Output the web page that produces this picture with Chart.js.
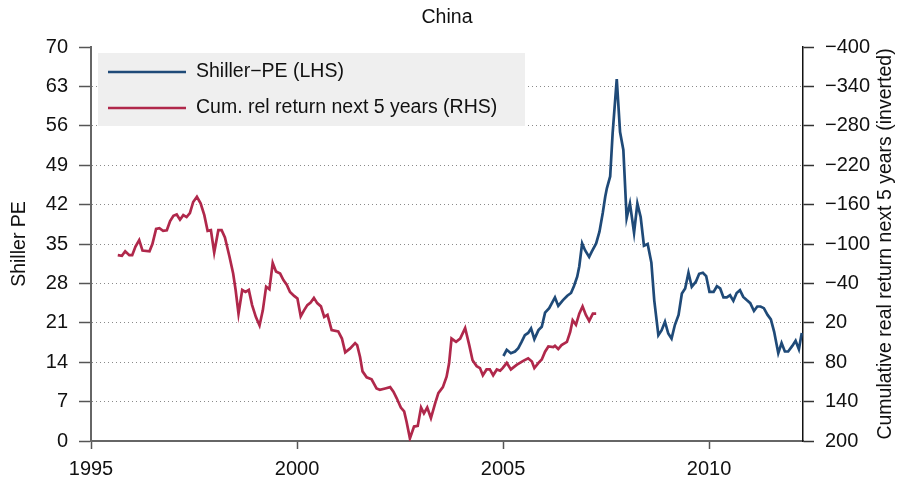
<!DOCTYPE html>
<html>
<head>
<meta charset="utf-8">
<script src="https://cdn.jsdelivr.net/npm/chart.js@4"></script>
<style>
  body { margin:0; background:#fff; }
</style>
</head>
<body>
<canvas id="chart" width="901" height="486"></canvas>
<script>
// Shiller PE for China (left axis)
const peYears = [
  2005.01,2005.09,2005.19,2005.29,2005.37,2005.45,2005.53,2005.61,2005.68,2005.76,
  2005.86,2005.94,2006.02,2006.12,2006.26,2006.34,2006.45,2006.56,2006.65,2006.72,
  2006.80,2006.85,2006.92,2006.99,2007.09,2007.15,2007.26,2007.34,2007.42,2007.48,
  2007.52,2007.60,2007.66,2007.76,2007.84,2007.92,2008.00,2008.08,2008.18,2008.26,
  2008.34,2008.42,2008.51,2008.60,2008.67,2008.77,2008.85,2008.93,2009.01,2009.09,
  2009.17,2009.26,2009.34,2009.42,2009.50,2009.58,2009.68,2009.76,2009.85,2009.93,
  2010.01,2010.11,2010.19,2010.27,2010.35,2010.43,2010.51,2010.59,2010.67,2010.75,
  2010.83,2010.92,2011.00,2011.09,2011.17,2011.25,2011.33,2011.42,2011.50,2011.58,
  2011.68,2011.76,2011.84,2011.92,2012.02,2012.10,2012.18,2012.25
];
const peValues = [
  15.1,16.2,15.6,15.9,16.5,17.6,18.8,19.2,20.0,18.1,
  19.7,20.3,22.8,23.6,25.5,24.0,25.0,25.8,26.3,27.5,
  29.2,31.0,35.1,33.9,32.7,33.6,35.1,37.2,40.5,43.4,
  44.9,47.0,54.7,64.3,54.9,51.7,39.6,42.2,37.0,42.2,
  39.8,34.7,35.0,31.7,25.0,18.8,19.7,21.2,19.1,18.2,
  20.6,22.4,26.2,27.1,29.9,27.4,28.3,29.7,29.9,29.3,
  26.5,26.5,27.5,27.1,25.5,25.5,25.9,24.9,26.3,26.8,
  25.6,25.0,24.5,23.1,23.9,23.9,23.6,22.4,21.6,19.4,
  15.6,17.4,15.9,15.9,16.9,17.8,16.3,19.2
];

// cumulative relative return over the next 5 years (right axis, inverted)
const retYears = [
  1995.65,1995.75,1995.83,1995.93,1996.00,1996.08,1996.17,1996.25,1996.42,1996.49,
  1996.58,1996.66,1996.75,1996.84,1996.92,1997.00,1997.08,1997.16,1997.24,1997.32,
  1997.40,1997.48,1997.57,1997.66,1997.75,1997.83,1997.91,1997.99,1998.09,1998.17,
  1998.25,1998.36,1998.45,1998.51,1998.58,1998.67,1998.75,1998.83,1998.91,1999.00,
  1999.09,1999.17,1999.25,1999.33,1999.41,1999.49,1999.59,1999.67,1999.75,1999.83,
  1999.93,2000.01,2000.09,2000.17,2000.25,2000.33,2000.41,2000.49,2000.58,2000.66,
  2000.74,2000.84,2001.00,2001.09,2001.17,2001.29,2001.41,2001.46,2001.53,2001.59,
  2001.69,2001.81,2001.93,2002.01,2002.14,2002.26,2002.34,2002.42,2002.52,2002.60,
  2002.66,2002.74,2002.84,2002.93,2003.01,2003.08,2003.16,2003.25,2003.35,2003.43,
  2003.54,2003.63,2003.69,2003.75,2003.86,2003.96,2004.08,2004.18,2004.26,2004.36,
  2004.44,2004.51,2004.60,2004.68,2004.76,2004.85,2004.93,2004.99,2005.09,2005.19,
  2005.33,2005.49,2005.61,2005.70,2005.76,2005.86,2005.94,2006.02,2006.10,2006.22,
  2006.26,2006.34,2006.42,2006.55,2006.63,2006.69,2006.77,2006.85,2006.93,2007.01,
  2007.09,2007.18,2007.26
];
const retValues = [
  -83,-82,-89,-83,-83,-96,-106,-90,-89,-100,
  -123,-124,-120,-121,-135,-143,-145,-137,-144,-141,
  -147,-164,-172,-162,-144,-120,-121,-87,-121,-121,
  -110,-81,-55,-30,6,-30,-27,-30,-7,11,
  24,1,-35,-31,-71,-58,-55,-45,-38,-27,
  -21,-17,10,1,-7,-11,-18,-10,-5,11,
  8,31,33,44,65,59,51,54,72,94,
  103,106,120,122,120,118,125,135,149,155,
  171,196,178,177,149,158,149,165,143,127,
  118,102,82,44,49,44,28,54,77,86,
  89,100,91,91,100,91,93,89,81,91,
  84,78,74,79,89,81,76,64,56,57,
  55,60,54,49,34,16,23,6,-5,8,
  17,6,6
];

const xTicks  = [1995, 2000, 2005, 2010];
const peTicks = [0, 7, 14, 21, 28, 35, 42, 49, 56, 63, 70];

const blue = '#1f4a78', red = '#b0284b';
const font = '"Liberation Sans", Arial, Helvetica, sans-serif';

Chart.defaults.font.family = font;
Chart.defaults.font.size = 20;
Chart.defaults.color = '#111';

// title, axis titles and the grey legend box
const decor = {
  id: 'decor',
  beforeDatasetsDraw(chart) {
    const {ctx, chartArea:a} = chart;
    ctx.save();
    ctx.fillStyle = '#efefef';
    ctx.fillRect(a.left + 7, a.top + 6, 427, 73);
    ctx.font = '19.5px ' + font;
    ctx.textBaseline = 'middle';
    chart.data.datasets.forEach((ds, i) => {
      const y = a.top + 25 + i * 36;
      ctx.strokeStyle = ds.borderColor; ctx.lineWidth = 2.5;
      ctx.beginPath(); ctx.moveTo(a.left + 17, y); ctx.lineTo(a.left + 95, y); ctx.stroke();
      ctx.fillStyle = '#111';
      ctx.fillText(ds.label, a.left + 105, y);
    });
    ctx.restore();
  },
  afterDraw(chart) {
    const {ctx, chartArea:a} = chart;
    const mid = (a.top + a.bottom) / 2;
    ctx.save();
    ctx.fillStyle = '#111';
    ctx.font = '19.5px ' + font;
    ctx.textAlign = 'center'; ctx.textBaseline = 'middle';
    ctx.fillText('China', (a.left + a.right) / 2, 18);
    [[20, 'Shiller PE'], [886, 'Cumulative real return next 5 years (inverted)']].forEach(([x, t]) => {
      ctx.save(); ctx.translate(x, mid); ctx.rotate(-Math.PI / 2);
      ctx.fillText(t, 0, 0); ctx.restore();
    });
    ctx.restore();
  }
};

new Chart(document.getElementById('chart'), {
  type: 'line',
  data: { datasets: [
    { label:'Shiller\u2212PE (LHS)', yAxisID:'y',
      data: peYears.map((x, i) => ({x, y: peValues[i]})),
      borderColor: blue, borderWidth: 2.7, pointRadius: 0, tension: 0 },
    { label:'Cum. rel return next 5 years (RHS)', yAxisID:'y2',
      data: retYears.map((x, i) => ({x, y: retValues[i]})),
      borderColor: red, borderWidth: 2.7, pointRadius: 0, tension: 0 }
  ]},
  options: {
    responsive: false, animation: false,
    layout: { padding: { top: 47 } },
    plugins: { legend: { display: false }, title: { display: false }, tooltip: { enabled: false } },
    scales: {
      x: {
        type: 'linear', min: 1995, max: 2012.28,
        afterBuildTicks: s => { s.ticks = xTicks.map(value => ({value})); },
        afterFit: s => { s.height = 45; },
        ticks: { padding: 8, maxRotation: 0, callback: v => String(v) },
        grid: { drawOnChartArea: false, tickLength: 8, tickColor: '#555', tickWidth: 1.5 },
        border: { color: '#666', width: 2 }
      },
      y: {
        position: 'left', min: 0, max: 70,
        afterBuildTicks: s => { s.ticks = peTicks.map(value => ({value})); },
        afterFit: s => { s.width = 91; },
        ticks: { padding: 11 },
        grid: {
          color: c => (c.tick && (c.tick.value === 0 || c.tick.value === 70)) ? 'rgba(0,0,0,0)' : '#8a8a8a',
          lineWidth: 1, tickLength: 12, tickColor: '#555', tickWidth: 1.5
        },
        border: { color: '#666', width: 2, dash: [1, 3] }
      },
      y2: {
        position: 'right', reverse: true, min: -400, max: 200,
        ticks: { stepSize: 60, padding: 11, callback: v => v < 0 ? '\u2212' + Math.abs(v) : String(v) },
        afterFit: s => { s.width = 98; },
        grid: { drawOnChartArea: false, tickLength: 11, tickColor: '#333', tickWidth: 1.5 },
        border: { color: '#111', width: 1.5 }
      }
    }
  },
  plugins: [decor]
});
</script>
</body>
</html>
